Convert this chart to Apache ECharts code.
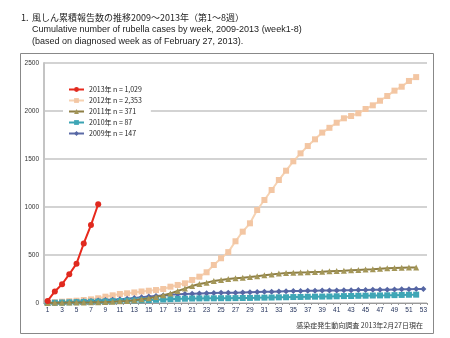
<!DOCTYPE html>
<html>
<head>
<meta charset="utf-8">
<script src="https://cdn.jsdelivr.net/npm/echarts@6/dist/echarts.min.js"></script>
<style>
  html, body { margin: 0; padding: 0; background: #fff; }
  #chart { width: 450px; height: 338px; }
</style>
</head>
<body>
<div id="chart"></div>
<script>
// Week numbers 1..53 on the category axis
const weeks = [];
for (let w = 1; w <= 53; w++) weeks.push(String(w));

// Cumulative rubella case counts per week
const cases2013 = [22, 120, 195, 300, 410, 620, 812, 1029];
const cases2012 = [3, 8, 14, 19, 24, 31, 38, 49, 66, 80,
  94, 101, 110, 120, 128, 135, 146, 170, 188, 205,
  240, 274, 320, 396, 466, 530, 643, 743, 830, 969,
  1073, 1177, 1281, 1378, 1476, 1559, 1635, 1705, 1775, 1825,
  1878, 1924, 1948, 1976, 2021, 2059, 2107, 2156, 2212, 2253,
  2313, 2353];
const cases2011 = [1, 2, 3, 4, 5, 6, 7, 9, 11, 14,
  18, 22, 28, 38, 49, 62, 80, 100, 125, 150,
  177, 198, 212, 229, 240, 250, 257, 264, 270, 278,
  288, 298, 306, 312, 316, 318, 320, 323, 326, 330,
  333, 336, 340, 344, 348, 352, 357, 361, 365, 368,
  370, 371];
const cases2010 = [1, 3, 5, 7, 9, 11, 13, 15, 17, 19,
  21, 24, 27, 29, 31, 34, 37, 40, 43, 45,
  47, 48, 49, 49, 50, 50, 51, 52, 53, 55,
  56, 57, 59, 60, 62, 63, 65, 66, 67, 68,
  70, 72, 73, 75, 76, 78, 79, 80, 82, 84,
  86, 87];
const cases2009 = [1, 3, 6, 9, 13, 17, 21, 25, 30, 35,
  40, 45, 52, 60, 67, 73, 79, 85, 90, 94,
  97, 100, 102, 104, 106, 107, 108, 110, 112, 114,
  116, 118, 120, 122, 124, 126, 127, 128, 129, 130,
  131, 133, 134, 135, 136, 137, 138, 139, 141, 142,
  144, 146, 147];

const seriesNames = ['2013年 n = 1,029', '2012年 n = 2,353', '2011年 n = 371', '2010年 n = 87', '2009年 n = 147'];

const chart = echarts.init(document.getElementById('chart'), null, { renderer: 'canvas' });

function line(name, data, color, markColor, symbol, size, z) {
  return {
    name: name,
    type: 'line',
    data: data,
    symbol: symbol,
    symbolSize: size,
    showAllSymbol: true,
    z: z,
    lineStyle: { color: color, width: 2 },
    itemStyle: { color: markColor, borderWidth: 0 },
    emphasis: { disabled: true },
    animation: false
  };
}

chart.setOption({
  animation: false,
  title: [
    { text: '1.', left: 16, top: 8, textStyle: { fontSize: 9, fontWeight: 'normal', color: '#222', fontFamily: 'Noto Sans CJK JP' } },
    { text: '風しん累積報告数の推移2009～2013年（第1～8週）', left: 27, top: 8, textStyle: { fontSize: 9, fontWeight: 'normal', color: '#222', fontFamily: 'Noto Sans CJK JP' } },
    { text: 'Cumulative number of rubella cases by week, 2009-2013 (week1-8)', left: 27, top: 20, textStyle: { fontSize: 9, fontWeight: 'normal', color: '#222', fontFamily: 'Liberation Sans' } },
    { text: '(based on diagnosed week as of February 27, 2013).', left: 27, top: 32, textStyle: { fontSize: 9, fontWeight: 'normal', color: '#222', fontFamily: 'Liberation Sans' } },
    { text: '感染症発生動向調査 2013年2月27日現在', right: 22, top: 317, textStyle: { fontSize: 7, fontWeight: 'normal', color: '#333', fontFamily: 'Noto Sans CJK JP' } }
  ],
  graphic: [
    { type: 'rect', shape: { x: 20.5, y: 53.5, width: 413, height: 280 }, style: { fill: 'none', stroke: '#888', lineWidth: 1 }, silent: true, z: -1 }
  ],
  legend: {
    orient: 'vertical',
    left: 63,
    top: 82,
    padding: [4, 9, 4, 5],
    backgroundColor: '#fff',
    itemWidth: 15,
    itemHeight: 6,
    itemGap: 4,
    data: seriesNames,
    textStyle: { fontSize: 7, color: '#222', fontFamily: 'Noto Sans CJK JP' },
    z: 10
  },
  grid: { left: 44, right: 23, top: 63, bottom: 35, containLabel: false },
  xAxis: {
    type: 'category',
    data: weeks,
    boundaryGap: true,
    axisLine: { lineStyle: { color: '#999', width: 1 } },
    axisTick: { show: true, interval: 0, length: 2, lineStyle: { color: '#999' } },
    axisLabel: { interval: 1, fontSize: 6.5, color: '#1c2b55', margin: 4, fontFamily: 'Liberation Sans' },
    splitLine: { show: false }
  },
  yAxis: {
    type: 'value',
    min: 0,
    max: 2500,
    interval: 500,
    axisLine: { show: true, lineStyle: { color: '#c4c4c4', width: 2 } },
    axisTick: { show: false },
    axisLabel: { fontSize: 6.5, color: '#333', margin: 5, fontFamily: 'Liberation Sans', formatter: function (v) { return String(v); } },
    splitLine: { lineStyle: { color: '#c4c4c4', width: 1.5 } }
  },
  series: [
    line(seriesNames[4], cases2009, '#5b6aa6', '#5566a4', 'diamond', 6, 2),
    line(seriesNames[3], cases2010, '#3aa3b3', '#3ea6b6', 'rect', 6, 3),
    line(seriesNames[2], cases2011, '#8e7f45', '#a39658', 'triangle', 6, 4),
    line(seriesNames[1], cases2012, '#f6d2b2', '#f3c6a3', 'rect', 6, 1),
    line(seriesNames[0], cases2013, '#e8291c', '#e02a1f', 'circle', 6, 5)
  ]
});
</script>
</body>
</html>
